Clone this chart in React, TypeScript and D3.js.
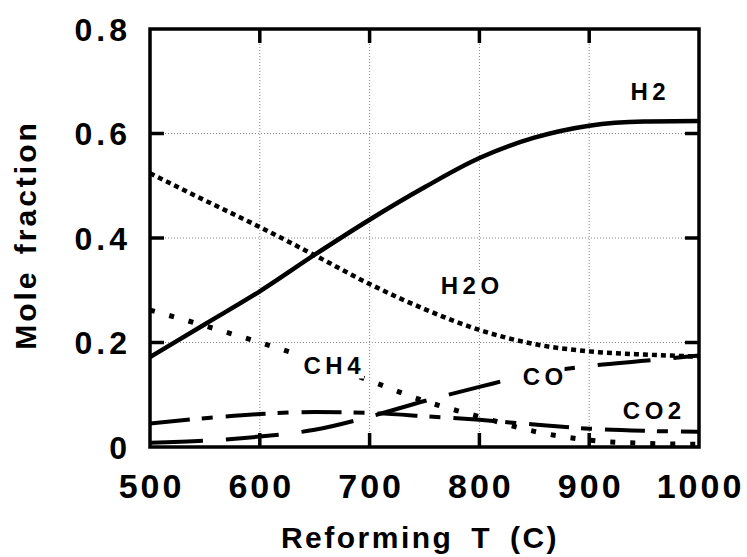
import React from "react";
import * as d3 from "d3";

const temps = [500, 550, 600, 650, 700, 750, 800, 850, 900, 950, 1000];
const h2 = [0.172, 0.235, 0.298, 0.368, 0.435, 0.497, 0.553, 0.592, 0.615, 0.623, 0.624];
const h2o = [0.524, 0.472, 0.421, 0.367, 0.312, 0.264, 0.224, 0.197, 0.183, 0.177, 0.173];
const ch4 = [0.262, 0.232, 0.2, 0.166, 0.127, 0.088, 0.058, 0.03, 0.013, 0.007, 0.005];
const co = [0.008, 0.012, 0.02, 0.033, 0.058, 0.088, 0.115, 0.14, 0.155, 0.165, 0.175];
const co2 = [0.045, 0.055, 0.063, 0.067, 0.065, 0.059, 0.052, 0.043, 0.035, 0.031, 0.029];

const xTicks = [500, 600, 700, 800, 900, 1000];
const yTicks = [0, 0.2, 0.4, 0.6, 0.8];
const yTickLabels = ["0", "0.2", "0.4", "0.6", "0.8"];

const seriesNames = ["H2", "H2O", "CH4", "CO", "CO2"];
const seriesValues = [h2, h2o, ch4, co, co2];
const seriesDash = ["none", "5,4", "5,15", "53,23", "40,12,11,13"];
const seriesWidth = [4.5, 4.5, 5, 4, 4];
// label centre positions (data coords)
const labelT = [953.6, 791.4, 665.8, 857.9, 957.2];
const labelV = [0.681, 0.309, 0.156, 0.135, 0.069];

const W = 747;
const H = 557;
const L = 150, R = 699, T = 29, B = 447;
const FONT = "'Liberation Sans', Arial, Helvetica, sans-serif";

export default function App() {
  const x = d3.scaleLinear().domain([500, 1000]).range([L, R]);
  const y = d3.scaleLinear().domain([0, 0.8]).range([B, T]);
  const line = (vals: number[]) =>
    d3
      .line<number>()
      .x((_, i) => x(temps[i]))
      .y((d) => y(d))
      .curve(d3.curveMonotoneX)(vals) || "";

  return (
    <svg
      width={W}
      height={H}
      style={{ position: "absolute", left: 0, top: 0, background: "#fff" }}
      fontFamily={FONT}
      fontWeight="bold"
    >
      <rect x={0} y={0} width={W} height={H} fill="#fff" />
      <defs>
        <clipPath id="plot">
          <rect x={L} y={T} width={R - L} height={B - T} />
        </clipPath>
      </defs>
      {/* grid */}
      {xTicks.slice(1, -1).map((t) => (
        <line key={"gx" + t} x1={x(t)} x2={x(t)} y1={T} y2={B} stroke="#888" strokeWidth={1} strokeDasharray="1,2" />
      ))}
      {yTicks.slice(1, -1).map((t) => (
        <line key={"gy" + t} x1={L} x2={R} y1={y(t)} y2={y(t)} stroke="#888" strokeWidth={1} strokeDasharray="1,2" />
      ))}
      {/* series */}
      <g clipPath="url(#plot)">
        {seriesValues.map((vals, i) => (
          <path
            key={seriesNames[i]}
            d={line(vals)}
            fill="none"
            stroke="#000"
            strokeWidth={seriesWidth[i]}
            strokeDasharray={seriesDash[i]}
          />
        ))}
      </g>
      {/* series labels with white backing */}
      {seriesNames.map((n, i) => {
        const fs = 24;
        const ls = 4.5;
        const w = n.length * fs * 0.68 + (n.length - 1) * ls;
        const cx = x(labelT[i]);
        const cy = y(labelV[i]);
        return (
          <g key={"lab" + n}>
            <rect x={cx - w / 2 - 3} y={cy - 13} width={w + 6} height={26} fill="#fff" />
            <text
              x={cx + ls / 2}
              y={cy + 8.5}
              textAnchor="middle"
              fontSize={fs}
              letterSpacing={ls}
              fill="#000"
            >
              {n}
            </text>
          </g>
        );
      })}
      {/* ticks */}
      {xTicks.slice(1, -1).map((t) => (
        <g key={"tx" + t}>
          <line x1={x(t)} x2={x(t)} y1={B} y2={B - 14} stroke="#000" strokeWidth={3.5} />
          <line x1={x(t)} x2={x(t)} y1={T} y2={T + 14} stroke="#000" strokeWidth={3.5} />
        </g>
      ))}
      {yTicks.slice(1, -1).map((t) => (
        <g key={"ty" + t}>
          <line x1={L} x2={L + 14} y1={y(t)} y2={y(t)} stroke="#000" strokeWidth={3.5} />
          <line x1={R} x2={R - 14} y1={y(t)} y2={y(t)} stroke="#000" strokeWidth={3.5} />
        </g>
      ))}
      {/* frame */}
      <rect x={L} y={T} width={R - L} height={B - T} fill="none" stroke="#000" strokeWidth={3.5} />
      {/* tick labels */}
      {xTicks.map((t) => (
        <text key={"xl" + t} x={x(t) + 1.5} y={498} textAnchor="middle" fontSize={34} letterSpacing={3} fill="#000">
          {t}
        </text>
      ))}
      {yTicks.map((t, i) => (
        <text key={"yl" + t} x={131} y={y(t) + 11.5} textAnchor="end" fontSize={32} letterSpacing={4} fill="#000">
          {yTickLabels[i]}
        </text>
      ))}
      {/* axis titles */}
      <text x={420} y={548} textAnchor="middle" fontSize={30} letterSpacing={2.5} wordSpacing={7} fill="#000">
        Reforming T (C)
      </text>
      <text
        transform={`translate(36,${(T + B) / 2 - 3}) rotate(-90)`}
        textAnchor="middle"
        fontSize={30}
        letterSpacing={3}
        wordSpacing={4}
        fill="#000"
      >
        Mole fraction
      </text>
    </svg>
  );
}
